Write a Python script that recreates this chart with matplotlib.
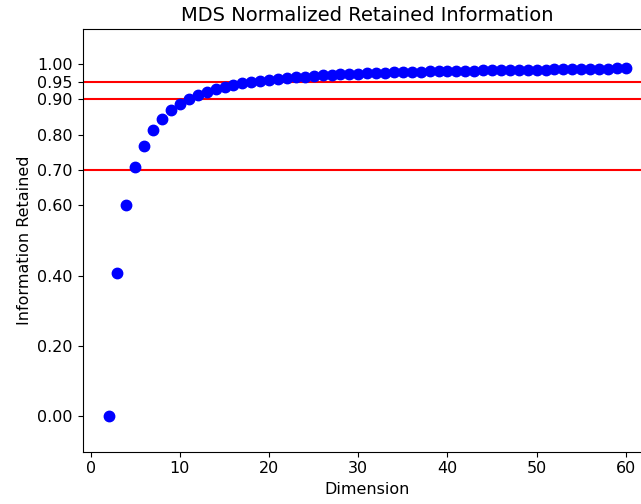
import matplotlib
matplotlib.use("Agg")
import matplotlib.pyplot as plt

dimensions = list(range(2, 61))
retained = [0.000, 0.408, 0.601, 0.709, 0.768, 0.814, 0.845, 0.869, 0.887, 0.901,
            0.913, 0.922, 0.930, 0.936, 0.941, 0.946, 0.950, 0.953, 0.956, 0.959,
            0.961, 0.963, 0.965, 0.967, 0.968, 0.970, 0.971, 0.972, 0.973, 0.974,
            0.975, 0.976, 0.977, 0.978, 0.978, 0.979, 0.980, 0.980, 0.981, 0.981,
            0.982, 0.982, 0.983, 0.983, 0.984, 0.984, 0.984, 0.985, 0.985, 0.985,
            0.986, 0.986, 0.986, 0.987, 0.987, 0.987, 0.987, 0.988, 0.988]
thresholds = [0.70, 0.90, 0.95]
y_ticks = [0.0, 0.2, 0.4, 0.6, 0.7, 0.8, 0.9, 0.95, 1.0]

plt.rcParams["font.size"] = 11.5

fig = plt.figure(figsize=(6.41, 5.04), dpi=100)
# axes runs past the right edge, like the cropped original
ax = fig.add_axes([82.7 / 641, (504 - 451.7) / 504, 569 / 641, 422.7 / 504])

for t in thresholds:
    ax.axhline(t, color="r", lw=1.5)
ax.plot(dimensions, retained, "bo", markersize=7.5)

ax.set_ylim(-0.1, 1.1)
ax.set_xlim(-0.9, 62.9)
ax.set_yticks(y_ticks)
ax.set_yticklabels(["%.2f" % v for v in y_ticks])
ax.set_xticks([0, 10, 20, 30, 40, 50, 60])

ax.set_title("MDS Normalized Retained Information", fontsize=14)
ax.set_xlabel("Dimension")
ax.set_ylabel("Information Retained")

fig.savefig("out.png", dpi=100)
